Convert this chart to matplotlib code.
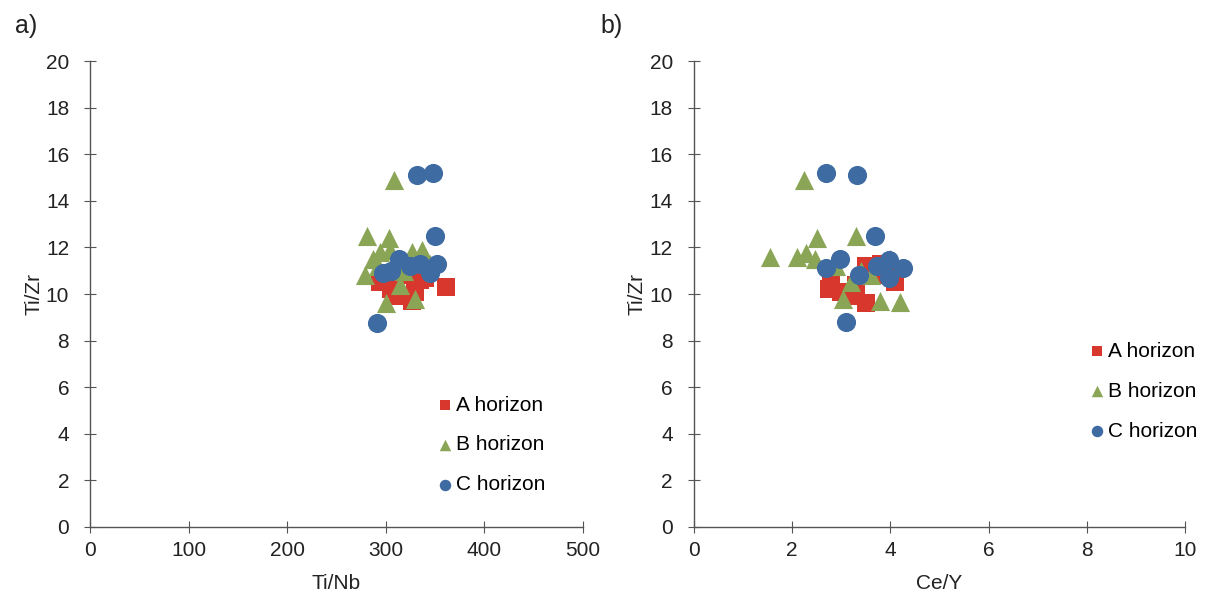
import numpy as np
import matplotlib.pyplot as plt

plt.rcParams['font.family'] = ['Liberation Sans', 'DejaVu Sans']

# Panel a) Ti/Nb vs Ti/Zr
a_tinb = [294, 312, 327, 335, 320, 361, 305, 330, 298, 340]
a_tizr_a = [10.5, 9.9, 9.7, 10.6, 10.8, 10.3, 10.2, 10.1, 10.9, 10.7]
b_tinb = [308, 281, 303, 279, 300, 330, 314, 287, 294, 304, 327, 337, 318, 345, 292]
b_tizr_a = [14.9, 12.5, 12.4, 10.8, 9.6, 9.8, 10.4, 11.5, 11.8, 11.9, 11.8, 11.9, 11.0, 11.3, 11.2]
c_tinb = [332, 348, 350, 291, 297, 313, 335, 352, 345, 305, 325]
c_tizr_a = [15.1, 15.2, 12.5, 8.75, 10.9, 11.5, 11.3, 11.3, 10.9, 11.0, 11.2]

# Panel b) Ce/Y vs Ti/Zr
a_cey = [2.76, 2.8, 3.17, 3.5, 4.1, 3.5, 3.8, 3.0, 3.3, 3.9]
a_tizr_b = [10.2, 10.6, 9.9, 9.6, 10.5, 11.2, 11.3, 10.1, 10.4, 10.8]
b_cey = [2.24, 2.5, 3.31, 1.56, 2.11, 2.29, 2.46, 3.03, 3.78, 4.2, 3.2, 3.6, 4.0, 2.9, 3.4]
b_tizr_b = [14.9, 12.4, 12.5, 11.6, 11.6, 11.75, 11.5, 9.8, 9.7, 9.65, 10.5, 10.8, 11.5, 11.2, 11.0]
c_cey = [2.70, 3.33, 3.68, 3.09, 2.70, 2.97, 3.37, 3.72, 3.98, 4.25, 3.98]
c_tizr_b = [15.2, 15.1, 12.5, 8.8, 11.1, 11.5, 10.8, 11.2, 11.45, 11.1, 10.7]

red = '#D7372C'
green = '#8BA556'
blue = '#3D6BA2'
txt = '#222222'

fig = plt.figure(figsize=(12.17, 6.02), dpi=100)
ax1 = fig.add_axes([0.074, 0.1246, 0.405, 0.774])
ax2 = fig.add_axes([0.570, 0.1246, 0.404, 0.774])


def style(ax, xmax, xstep, xlabel, leg_anchor):
    ax.set_xlim(0, xmax)
    ax.set_ylim(0, 20)
    ax.set_xticks(np.arange(0, xmax + xstep / 2, xstep))
    ax.set_yticks(np.arange(0, 21, 2))
    for s in ['top', 'right']:
        ax.spines[s].set_visible(False)
    for s in ['left', 'bottom']:
        ax.spines[s].set_color('#555555')
        ax.spines[s].set_linewidth(1.0)
    ax.tick_params(direction='inout', length=8, color='#555555', labelsize=15, labelcolor=txt)
    ax.tick_params(axis='x', pad=6)
    ax.tick_params(axis='y', pad=11)
    ax.set_xlabel(xlabel, fontsize=15, color=txt, labelpad=10)
    ax.set_ylabel('Ti/Zr', fontsize=15, color=txt, labelpad=2)
    ax.legend(loc='upper left', bbox_to_anchor=leg_anchor, frameon=False, fontsize=15,
              handletextpad=0.0, labelspacing=1.0, markerscale=0.6, handlelength=1.1,
              borderaxespad=0)


ms = 190
for ax, xa, ya, xb, yb, xc, yc in [
    (ax1, a_tinb, a_tizr_a, b_tinb, b_tizr_a, c_tinb, c_tizr_a),
    (ax2, a_cey, a_tizr_b, b_cey, b_tizr_b, c_cey, c_tizr_b),
]:
    ax.scatter(xa, ya, marker='s', s=ms * 0.8, color=red, label='A horizon', zorder=3, linewidths=0)
    ax.scatter(xb, yb, marker='^', s=ms, color=green, label='B horizon', zorder=4, linewidths=0)
    ax.scatter(xc, yc, marker='o', s=ms, color=blue, label='C horizon', zorder=5, linewidths=0)

style(ax1, 500, 100, 'Ti/Nb', (0.68, 0.3))
style(ax2, 10, 2, 'Ce/Y', (0.78, 0.415))

fig.text(0.012, 0.945, 'a)', fontsize=18, color=txt)
fig.text(0.493, 0.945, 'b)', fontsize=18, color=txt)

plt.savefig('out.png', dpi=100)
